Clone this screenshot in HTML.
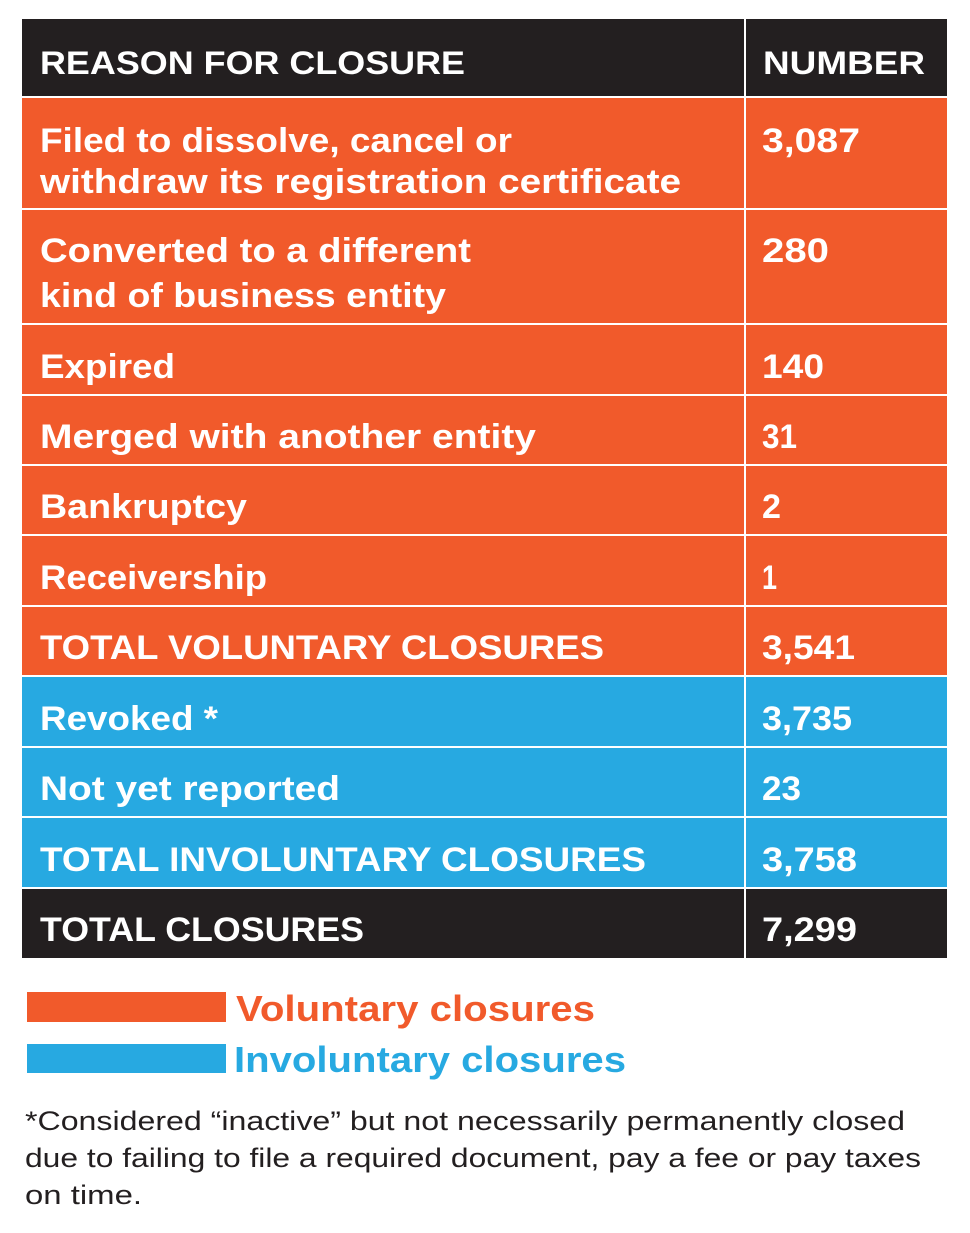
<!DOCTYPE html>
<html><head><meta charset="utf-8"><style>
html,body{margin:0;padding:0;background:#fff;}
svg{display:block;}
text{font-family:"Liberation Sans",sans-serif;font-weight:bold;fill:#fff;font-size:34px;}
.h{font-size:32px;}
.f{font-weight:normal;fill:#231f20;font-size:27px;}
</style></head><body>
<svg width="970" height="1233" viewBox="0 0 970 1233" xmlns="http://www.w3.org/2000/svg">
<rect x="0" y="0" width="970" height="1233" fill="#fff"/>
<rect x="22" y="19" width="925" height="78" fill="#231f20"/>
<rect x="22" y="97" width="925" height="579" fill="#f15a2b"/>
<rect x="22" y="676" width="925" height="212" fill="#27a9e1"/>
<rect x="22" y="888" width="925" height="70" fill="#231f20"/>
<g stroke="#fff" stroke-width="2">
<line x1="745" y1="19" x2="745" y2="958"/>
<line x1="22" y1="97" x2="947" y2="97"/>
<line x1="22" y1="209" x2="947" y2="209"/>
<line x1="22" y1="324" x2="947" y2="324"/>
<line x1="22" y1="395" x2="947" y2="395"/>
<line x1="22" y1="465" x2="947" y2="465"/>
<line x1="22" y1="535" x2="947" y2="535"/>
<line x1="22" y1="606" x2="947" y2="606"/>
<line x1="22" y1="676" x2="947" y2="676"/>
<line x1="22" y1="747" x2="947" y2="747"/>
<line x1="22" y1="817" x2="947" y2="817"/>
<line x1="22" y1="888" x2="947" y2="888"/>
</g>
<text class="h" x="40" y="74" textLength="425" lengthAdjust="spacingAndGlyphs">REASON FOR CLOSURE</text>
<text class="h" x="763" y="74" textLength="162" lengthAdjust="spacingAndGlyphs">NUMBER</text>
<text x="40" y="152" textLength="472" lengthAdjust="spacingAndGlyphs">Filed to dissolve, cancel or</text>
<text x="40" y="193" textLength="641" lengthAdjust="spacingAndGlyphs">withdraw its registration certificate</text>
<text x="762" y="152" textLength="98" lengthAdjust="spacingAndGlyphs">3,087</text>
<text x="40" y="262" textLength="431" lengthAdjust="spacingAndGlyphs">Converted to a different</text>
<text x="40" y="307" textLength="406" lengthAdjust="spacingAndGlyphs">kind of business entity</text>
<text x="762" y="262" textLength="67" lengthAdjust="spacingAndGlyphs">280</text>
<text x="40" y="378" textLength="135" lengthAdjust="spacingAndGlyphs">Expired</text>
<text x="762" y="378" textLength="62" lengthAdjust="spacingAndGlyphs">140</text>
<text x="40" y="448" textLength="496" lengthAdjust="spacingAndGlyphs">Merged with another entity</text>
<text x="762" y="448" textLength="35" lengthAdjust="spacingAndGlyphs">31</text>
<text x="40" y="518" textLength="207" lengthAdjust="spacingAndGlyphs">Bankruptcy</text>
<text x="762" y="518" textLength="19" lengthAdjust="spacingAndGlyphs">2</text>
<text x="40" y="589" textLength="227" lengthAdjust="spacingAndGlyphs">Receivership</text>
<text x="762" y="589" textLength="15" lengthAdjust="spacingAndGlyphs">1</text>
<text x="40" y="659" textLength="564" lengthAdjust="spacingAndGlyphs">TOTAL VOLUNTARY CLOSURES</text>
<text x="762" y="659" textLength="93" lengthAdjust="spacingAndGlyphs">3,541</text>
<text x="40" y="730" textLength="178" lengthAdjust="spacingAndGlyphs">Revoked *</text>
<text x="762" y="730" textLength="90" lengthAdjust="spacingAndGlyphs">3,735</text>
<text x="40" y="800" textLength="300" lengthAdjust="spacingAndGlyphs">Not yet reported</text>
<text x="762" y="800" textLength="39" lengthAdjust="spacingAndGlyphs">23</text>
<text x="40" y="871" textLength="606" lengthAdjust="spacingAndGlyphs">TOTAL INVOLUNTARY CLOSURES</text>
<text x="762" y="871" textLength="95" lengthAdjust="spacingAndGlyphs">3,758</text>
<text x="40" y="941" textLength="324" lengthAdjust="spacingAndGlyphs">TOTAL CLOSURES</text>
<text x="762" y="941" textLength="95" lengthAdjust="spacingAndGlyphs">7,299</text>
<rect x="27" y="992" width="199" height="30" fill="#f15a2b"/>
<rect x="27" y="1044" width="199" height="29" fill="#27a9e1"/>
<text x="236" y="1021" style="fill:#f15a2b;font-size:36px" textLength="359" lengthAdjust="spacingAndGlyphs">Voluntary closures</text>
<text x="234" y="1072" style="fill:#27a9e1;font-size:36px" textLength="392" lengthAdjust="spacingAndGlyphs">Involuntary closures</text>
<text class="f" x="25" y="1130" textLength="880" lengthAdjust="spacingAndGlyphs">*Considered “inactive” but not necessarily permanently closed</text>
<text class="f" x="25" y="1167" textLength="896" lengthAdjust="spacingAndGlyphs">due to failing to file a required document, pay a fee or pay taxes</text>
<text class="f" x="25" y="1204" textLength="117" lengthAdjust="spacingAndGlyphs">on time.</text>
</svg>
</body></html>
